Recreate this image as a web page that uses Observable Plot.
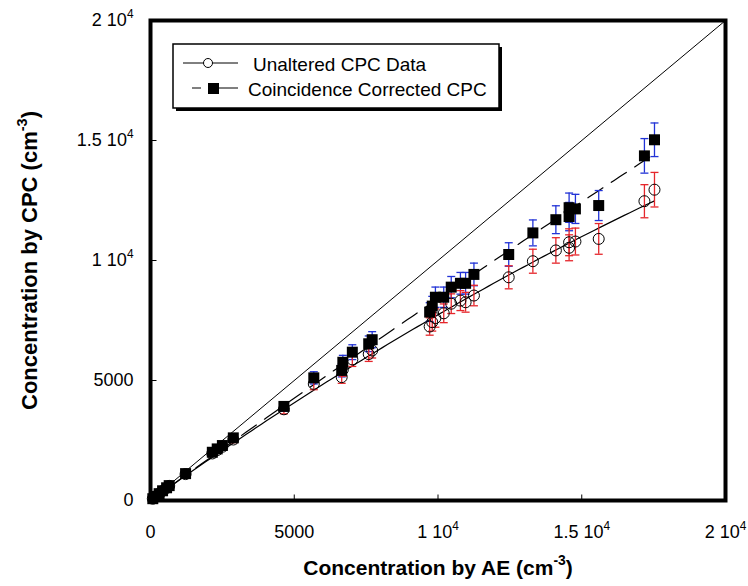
<!DOCTYPE html>
<html><head><meta charset="utf-8">
<script src="https://cdn.jsdelivr.net/npm/d3@7"></script>
<script src="https://cdn.jsdelivr.net/npm/@observablehq/plot@0.6"></script>
<style>
body{margin:0;background:#fff;}
#chart svg{font-family:"Liberation Sans",Arial,Helvetica,sans-serif;color:#000;background:#fff;}
</style>
</head><body><div id="chart"></div>
<script>
// ---- data ----
const aeConc = [80,180,300,420,560,650,1220,2150,2320,2500,2880,4640,5680,6650,6690,7020,7590,7710,9710,9800,9910,10200,10460,10780,10960,11250,12460,13300,14100,14560,14560,14780,15590,17180,17530];
const cpcUnaltered = [75,170,280,400,520,610,1100,1960,2100,2240,2540,3800,4860,5140,5450,5880,6100,6250,7250,7430,7600,7800,8200,8330,8260,8540,9300,9970,10420,10530,10760,10790,10900,12470,12950];
const cpcCorrected = [75,170,285,405,530,620,1120,2010,2150,2290,2610,3920,5110,5420,5760,6180,6530,6700,7850,8100,8470,8470,8890,9050,9050,9420,10250,11150,11700,11830,12200,12150,12290,14360,15030];
const errUnaltered = [4,9,14,20,26,30,55,98,105,112,127,190,243,257,272,294,305,312,362,371,380,390,410,416,413,427,480,500,530,540,560,560,640,690,720];
const errCorrected = [4,9,14,20,27,31,56,100,107,114,130,196,255,271,288,309,326,335,392,405,423,423,444,452,452,471,490,540,580,590,610,607,625,720,700];
const xTicks = [0,5000,10000,15000,20000];
const yTicks = [0,5000,10000,15000,20000];
const tickLabels = ["0","5000","1 10^4","1.5 10^4","2 10^4"];
const identityLine = [0,20000];
const seriesNames = ["Unaltered CPC Data","Coincidence Corrected CPC"];
const xTitle = "Concentration by AE (cm^-3^)";
const yTitle = "Concentration by CPC (cm^-3^)";

// ---- derived ----
const rows = aeConc.map((x,i)=>({x, c:cpcUnaltered[i], s:cpcCorrected[i], ec:errUnaltered[i], es:errCorrected[i]}));
function quadFit(xs, ys){ // y = a x + b x^2, least squares, x scaled by 1e-4
  let s2=0,s3=0,s4=0,sxy=0,sx2y=0;
  xs.forEach((x0,i)=>{const x=x0/1e4,y=ys[i]/1e4; s2+=x*x; s3+=x*x*x; s4+=x*x*x*x; sxy+=x*y; sx2y+=x*x*y;});
  const det=s2*s4-s3*s3; const a=(sxy*s4-s3*sx2y)/det; const b=(s2*sx2y-s3*sxy)/det;
  return x=>1e4*(a*(x/1e4)+b*(x/1e4)*(x/1e4));
}
const fU = quadFit(aeConc, cpcUnaltered), fC = quadFit(aeConc, cpcCorrected);
const xMax = d3.max(aeConc);
const fitX = d3.range(0, 101).map(i=>xMax*i/100);
const fitU = fitX.map(x=>({x, y:fU(x)}));
const fitCc = fitX.map(x=>({x, y:fC(x)}));
const fmt = d => tickLabels[xTicks.indexOf(d)];

const cap = {draw(ctx){ctx.moveTo(-4,0);ctx.lineTo(4,0);}};
const tickUp = {draw(ctx){ctx.moveTo(0,0);ctx.lineTo(0,-6);}};
const tickRight = {draw(ctx){ctx.moveTo(0,0);ctx.lineTo(6,0);}};
const RED="#e5262b", BLUE="#2233d6";

const plot = Plot.plot({
  width:748, height:586, marginLeft:150, marginRight:23, marginTop:20, marginBottom:86,
  x:{domain:[0,20000], label:null}, y:{domain:[0,20000], label:null},
  style:{fontFamily:"Liberation Sans, Arial, sans-serif", color:"#000", background:"#fff"},
  marks:[
    Plot.axisX(xTicks,{tickSize:0, tickPadding:25, fontSize:18, tickFormat:fmt, label:null}),
    Plot.axisY(yTicks,{tickSize:0, tickPadding:17, fontSize:18, tickFormat:fmt, label:null}),
    Plot.dot(xTicks.slice(1,-1),{x:d=>d, y:0, symbol:tickUp, stroke:"black", strokeWidth:1}),
    Plot.dot(yTicks.slice(1,-1),{x:0, y:d=>d, symbol:tickRight, stroke:"black", strokeWidth:1}),
    Plot.line(identityLine,{x:d=>d, y:d=>d, stroke:"black", strokeWidth:1}),
    Plot.line(fitU,{x:"x", y:"y", stroke:"black", strokeWidth:1.2}),
    Plot.line(fitCc,{x:"x", y:"y", stroke:"black", strokeWidth:1.2, strokeDasharray:"18,10"}),
    Plot.ruleX(rows,{x:"x", y1:d=>d.s-d.es, y2:d=>d.s+d.es, stroke:BLUE, strokeWidth:1.3}),
    Plot.dot(rows,{x:"x", y:d=>d.s+d.es, symbol:cap, stroke:BLUE, strokeWidth:1.3}),
    Plot.dot(rows,{x:"x", y:d=>d.s-d.es, symbol:cap, stroke:BLUE, strokeWidth:1.3}),
    Plot.ruleX(rows,{x:"x", y1:d=>d.c-d.ec, y2:d=>d.c+d.ec, stroke:RED, strokeWidth:1.3}),
    Plot.dot(rows,{x:"x", y:d=>d.c+d.ec, symbol:cap, stroke:RED, strokeWidth:1.3}),
    Plot.dot(rows,{x:"x", y:d=>d.c-d.ec, symbol:cap, stroke:RED, strokeWidth:1.3}),
    Plot.dot(rows,{x:"x", y:"c", r:5.5, stroke:"black", fill:"none", strokeWidth:1}),
    Plot.dot(rows,{x:"x", y:"s", r:6.2, symbol:"square", fill:"black"}),
    Plot.frame({stroke:"black", strokeWidth:4}),
    Plot.text([xTitle],{frameAnchor:"bottom", dy:74, fontSize:21, fontWeight:"bold", textAnchor:"middle", text:d=>d}),
    Plot.text([yTitle],{frameAnchor:"left", dx:-121, rotate:-90, fontSize:22, fontWeight:"bold", textAnchor:"middle", text:d=>d})
  ]
});
document.getElementById("chart").appendChild(plot);

// superscripts: "a^b^c" -> a, sup(b), c
function baseSize(el){ while(el && el.getAttribute){ const f=el.getAttribute("font-size"); if(f) return parseFloat(f); el=el.parentNode;} return 12; }
d3.select(plot).selectAll("text").each(function(){
  const t=this.textContent; if(!t.includes("^")) return;
  const parts=t.split("^"); const fs=baseSize(this); const sh=fs*0.45;
  this.textContent="";
  parts.forEach((p,i)=>{
    if(!p) return;
    const ts=d3.select(this).append("tspan").text(p);
    if(i%2===1){ ts.attr("font-size",fs*0.66).attr("dy",-sh); }
    else if(i>0){ ts.attr("dy",sh); }
  });
});

// legend
const svg = d3.select(plot);
const lg = svg.append("g").attr("font-family","Liberation Sans, Arial, sans-serif").attr("font-size",19).attr("text-anchor","start");
lg.append("rect").attr("x",176).attr("y",47).attr("width",326).attr("height",64).attr("fill","black");
lg.append("rect").attr("x",173).attr("y",44).attr("width",326).attr("height",64).attr("fill","white").attr("stroke","black").attr("stroke-width",1.5);
lg.append("line").attr("x1",183).attr("x2",238).attr("y1",63).attr("y2",63).attr("stroke","black");
lg.append("circle").attr("cx",208).attr("cy",63).attr("r",4.5).attr("fill","white").attr("stroke","black");
lg.append("line").attr("x1",192).attr("x2",201).attr("y1",88).attr("y2",88).attr("stroke","black");
lg.append("line").attr("x1",218).attr("x2",238).attr("y1",88).attr("y2",88).attr("stroke","black");
lg.append("rect").attr("x",208).attr("y",83).attr("width",11).attr("height",11).attr("fill","black");
lg.append("text").attr("x",253).attr("y",71).attr("text-anchor","start").text(seriesNames[0]);
lg.append("text").attr("x",248).attr("y",96).attr("text-anchor","start").text(seriesNames[1]);
</script>
</body></html>
